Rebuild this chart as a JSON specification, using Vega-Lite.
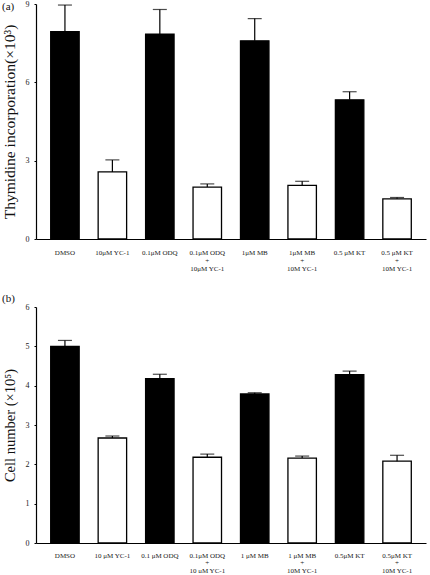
{
  "$schema": "https://vega.github.io/schema/vega-lite/v6.json",
  "background": "white",
  "padding": {"left": 2, "top": 0, "right": 4, "bottom": 0},
  "spacing": 22,
  "config": {
    "font": "Liberation Serif",
    "view": {"stroke": null},
    "axis": {
      "grid": false,
      "domainColor": "#000",
      "domainWidth": 1.2,
      "tickColor": "#000",
      "labelFont": "Liberation Serif",
      "titleFont": "Liberation Serif",
      "labelColor": "#222",
      "titleColor": "#111",
      "titleFontWeight": "normal",
      "labelOverlap": false
    },
    "title": {"font": "Liberation Serif", "fontWeight": "normal", "fontSize": 11, "color": "#111", "anchor": "start", "frame": "bounds"}
  },
  "datasets": {
    "thymidine": [
      {"treatment": "DMSO", "mean": 7.94, "upper": 8.96, "yc1": "without YC-1"},
      {"treatment": "10μM YC-1", "mean": 2.57, "upper": 3.03, "yc1": "with YC-1"},
      {"treatment": "0.1μM ODQ", "mean": 7.85, "upper": 8.79, "yc1": "without YC-1"},
      {"treatment": "0.1μM ODQ|+|10μM YC-1", "mean": 1.99, "upper": 2.11, "yc1": "with YC-1"},
      {"treatment": "1μM MB", "mean": 7.59, "upper": 8.44, "yc1": "without YC-1"},
      {"treatment": "1μM MB|+|10M YC-1", "mean": 2.05, "upper": 2.21, "yc1": "with YC-1"},
      {"treatment": "0.5 μM KT", "mean": 5.33, "upper": 5.64, "yc1": "without YC-1"},
      {"treatment": "0.5 μM KT|+|10M YC-1", "mean": 1.54, "upper": 1.59, "yc1": "with YC-1"}
    ],
    "cells": [
      {"treatment": "DMSO", "mean": 5.0, "upper": 5.15, "yc1": "without YC-1"},
      {"treatment": "10 μM YC-1", "mean": 2.67, "upper": 2.72, "yc1": "with YC-1"},
      {"treatment": "0.1 μM ODQ", "mean": 4.18, "upper": 4.29, "yc1": "without YC-1"},
      {"treatment": "0.1μM ODQ|+|10 μM YC-1", "mean": 2.18, "upper": 2.26, "yc1": "with YC-1"},
      {"treatment": "1 μM MB", "mean": 3.79, "upper": 3.82, "yc1": "without YC-1"},
      {"treatment": "1 μM MB|+|10M YC-1", "mean": 2.16, "upper": 2.21, "yc1": "with YC-1"},
      {"treatment": "0.5μM KT", "mean": 4.28, "upper": 4.37, "yc1": "without YC-1"},
      {"treatment": "0.5μM KT|+|10M YC-1", "mean": 2.08, "upper": 2.23, "yc1": "with YC-1"}
    ]
  },
  "vconcat": [
    {
      "title": {"text": "(a)", "offset": -12},
      "width": 390,
      "height": 235,
      "data": {"name": "thymidine"},
      "encoding": {
        "x": {
          "field": "treatment",
          "type": "nominal",
          "sort": null,
          "scale": {"paddingInner": 0.4, "paddingOuter": 0.31},
          "axis": {"title": null, "labelAngle": 0, "ticks": false, "labelFontSize": 7, "labelPadding": 9, "labelLineHeight": 8, "labelExpr": "split(datum.label, '|')"}
        },
        "y": {
          "field": "mean",
          "type": "quantitative",
          "scale": {"domain": [0, 9]},
          "axis": {"values": [0, 3, 6, 9], "title": "Thymidine incorporation(×10³)", "titleFontSize": 15.5, "titlePadding": 8, "labelFontSize": 8, "tickSize": 2, "labelPadding": 5}
        }
      },
      "layer": [
        {
          "mark": {"type": "bar", "stroke": "#000", "strokeWidth": 1.3},
          "encoding": {
            "fill": {"field": "yc1", "type": "nominal", "scale": {"domain": ["without YC-1", "with YC-1"], "range": ["#000000", "#ffffff"]}, "legend": null}
          }
        },
        {
          "mark": {"type": "rule", "strokeWidth": 1.2, "color": "#000"},
          "encoding": {"y2": {"field": "upper"}}
        },
        {
          "mark": {"type": "tick", "size": 14, "thickness": 1.2, "color": "#000"},
          "encoding": {"y": {"field": "upper", "type": "quantitative"}}
        }
      ]
    },
    {
      "title": {"text": "(b)", "offset": -1},
      "width": 390,
      "height": 236,
      "data": {"name": "cells"},
      "encoding": {
        "x": {
          "field": "treatment",
          "type": "nominal",
          "sort": null,
          "scale": {"paddingInner": 0.4, "paddingOuter": 0.31},
          "axis": {"title": null, "labelAngle": 0, "ticks": false, "labelFontSize": 7, "labelPadding": 8, "labelLineHeight": 7.5, "labelExpr": "split(datum.label, '|')"}
        },
        "y": {
          "field": "mean",
          "type": "quantitative",
          "scale": {"domain": [0, 6]},
          "axis": {"values": [0, 1, 2, 3, 4, 5, 6], "title": "Cell number (×10⁵)", "titleFontSize": 14.5, "titlePadding": 8, "labelFontSize": 8, "tickSize": 2, "labelPadding": 5}
        }
      },
      "layer": [
        {
          "mark": {"type": "bar", "stroke": "#000", "strokeWidth": 1.3},
          "encoding": {
            "fill": {"field": "yc1", "type": "nominal", "scale": {"domain": ["without YC-1", "with YC-1"], "range": ["#000000", "#ffffff"]}, "legend": null}
          }
        },
        {
          "mark": {"type": "rule", "strokeWidth": 1.2, "color": "#000"},
          "encoding": {"y2": {"field": "upper"}}
        },
        {
          "mark": {"type": "tick", "size": 14, "thickness": 1.2, "color": "#000"},
          "encoding": {"y": {"field": "upper", "type": "quantitative"}}
        }
      ]
    }
  ]
}
